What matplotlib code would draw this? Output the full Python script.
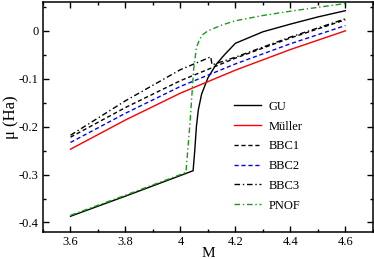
import matplotlib
matplotlib.use('Agg')
import matplotlib.pyplot as plt
from matplotlib.ticker import MultipleLocator, FormatStrFormatter

plt.rcParams['font.family'] = ['Liberation Serif', 'DejaVu Serif']
plt.rcParams['axes.unicode_minus'] = False

# data
m_smooth = [3.6, 3.8, 4.0, 4.2, 4.4, 4.6]
mu_muller = [-0.247, -0.186, -0.130, -0.082, -0.039, 0.000]
mu_bbc2 = [-0.233, -0.172, -0.116, -0.069, -0.027, 0.011]
mu_bbc1 = [-0.222, -0.160, -0.104, -0.057, -0.015, 0.023]

m_bbc3 = [3.6, 3.8, 4.0, 4.1, 4.11, 4.115, 4.2, 4.4, 4.6]
mu_bbc3 = [-0.218, -0.146, -0.081, -0.057, -0.054, -0.071, -0.055, -0.013, 0.025]

m_gu = [3.6, 3.8, 4.0, 4.046, 4.052, 4.058, 4.065, 4.077, 4.1, 4.13, 4.16, 4.2, 4.3, 4.4, 4.5, 4.6]
mu_gu = [-0.387, -0.345, -0.302, -0.292, -0.25, -0.20, -0.165, -0.132, -0.098, -0.07, -0.05, -0.026, -0.002, 0.014, 0.029, 0.042]

m_pnof = [3.6, 3.8, 4.0, 4.02, 4.035, 4.048, 4.058, 4.07, 4.083, 4.1, 4.15, 4.2, 4.3, 4.4, 4.5, 4.6]
mu_pnof = [-0.385, -0.343, -0.300, -0.295, -0.19, -0.08, -0.035, -0.017, -0.007, 0.0, 0.012, 0.021, 0.032, 0.041, 0.049, 0.057]

fig = plt.figure(figsize=(3.74, 2.59), dpi=100)
ax = fig.add_axes([0.115, 0.104, 0.882, 0.888])

lw = 1.0
ax.plot(m_gu, mu_gu, color='black', lw=lw, label='GU')
ax.plot(m_smooth, mu_muller, color='red', lw=lw, label='Müller')
ax.plot(m_smooth, mu_bbc1, color='black', lw=lw, dashes=(3, 2), label='BBC1')
ax.plot(m_smooth, mu_bbc2, color='blue', lw=lw, dashes=(3, 2), label='BBC2')
ax.plot(m_bbc3, mu_bbc3, color='black', lw=lw, dashes=(4, 2, 1, 2), label='BBC3')
ax.plot(m_pnof, mu_pnof, color='#1a9a1a', lw=lw, dashes=(4, 2, 1, 2), label='PNOF')

ax.set_xlim(3.5, 4.7)
ax.set_ylim(-0.42, 0.06)
ax.xaxis.set_major_locator(MultipleLocator(0.2))
ax.xaxis.set_minor_locator(MultipleLocator(0.1))
ax.yaxis.set_major_locator(MultipleLocator(0.1))
ax.yaxis.set_minor_locator(MultipleLocator(0.05))
ax.xaxis.set_major_formatter(FormatStrFormatter('%g'))
ax.yaxis.set_major_formatter(FormatStrFormatter('%g'))
ax.tick_params(which='both', direction='in', top=True, right=True, labelsize=9, width=1)
ax.tick_params(which='major', length=4.5, pad=3)
ax.tick_params(which='minor', length=2.5)
for s in ax.spines.values():
    s.set_linewidth(1.1)

ax.set_xlabel('M', fontsize=11, labelpad=-1)
ax.set_ylabel('μ (Ha)', fontsize=12, labelpad=0)

ax.legend(loc='center left', bbox_to_anchor=(0.56, 0.33), frameon=False, fontsize=9,
          handlelength=2.2, handletextpad=0.55, labelspacing=0.62, borderpad=0)

fig.savefig('out.png', dpi=100)
